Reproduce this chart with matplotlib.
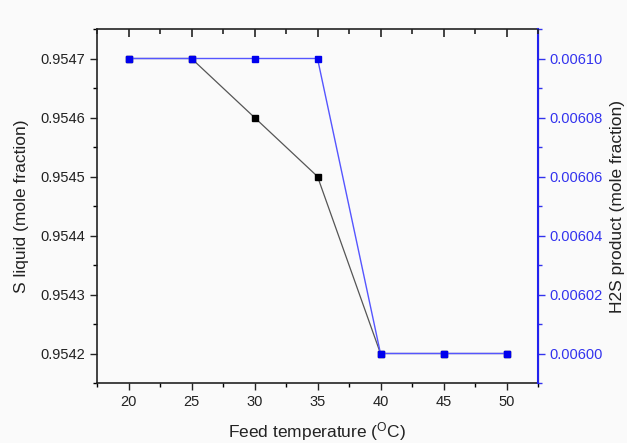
import matplotlib
matplotlib.use("Agg")
import matplotlib.pyplot as plt
from matplotlib.ticker import MultipleLocator, FormatStrFormatter

plt.rcParams['font.family'] = ['Liberation Sans', 'DejaVu Sans']

temperature = [20, 25, 30, 35, 40, 45, 50]
s_liquid = [0.9547, 0.9547, 0.9546, 0.9545, 0.9542, 0.9542, 0.9542]
h2s_product = [0.00610, 0.00610, 0.00610, 0.00610, 0.00600, 0.00600, 0.00600]

fig = plt.figure(figsize=(6.27, 4.43), dpi=100, facecolor='#fafafa')
ax = fig.add_axes([97/627, 1-383/443, (538-97)/627, (383-29)/443])
ax.set_facecolor('#fafafa')

ax.plot(temperature, s_liquid, color='#555555', lw=0.9, marker='s', ms=5,
        mfc='black', mec='black', zorder=2)
ax.set_xlim(17.5, 52.5)
ax.set_ylim(0.95415, 0.95475)
ax.xaxis.set_major_locator(MultipleLocator(5))
ax.xaxis.set_minor_locator(MultipleLocator(2.5))
ax.yaxis.set_major_locator(MultipleLocator(0.0001))
ax.yaxis.set_minor_locator(MultipleLocator(0.00005))
ax.yaxis.set_major_formatter(FormatStrFormatter('%.4f'))
ax.tick_params(axis='both', which='major', length=5, width=1, labelsize=10.5, colors='#222222', direction='out')
ax.tick_params(axis='both', which='minor', length=3, width=1, direction='out')
ax.set_xlabel('Feed temperature ($\\mathregular{^{O}}$C)', fontsize=12.5, color='#222222', labelpad=8)
ax.set_ylabel('S liquid (mole fraction)', fontsize=12.5, color='#222222', labelpad=8)
for s in ['left', 'bottom', 'top']:
    ax.spines[s].set_linewidth(1.2)
    ax.spines[s].set_color('#222222')

ax2 = ax.twinx()
ax2.plot(temperature, h2s_product, color='#5555ff', lw=1.0, marker='s', ms=5,
         mfc='#0000ee', mec='#0000ee', zorder=3)
ax2.set_ylim(0.00599, 0.00611)
ax2.yaxis.set_major_locator(MultipleLocator(0.00002))
ax2.yaxis.set_minor_locator(MultipleLocator(0.00001))
ax2.yaxis.set_major_formatter(FormatStrFormatter('%.5f'))
ax2.tick_params(axis='y', which='major', length=5, width=1, labelsize=10.5, colors='#3333ee', direction='out')
ax2.tick_params(axis='y', which='minor', length=3, width=1, colors='#3333ee', direction='out')
ax2.spines['right'].set_color('#2222ee')
ax2.spines['right'].set_linewidth(1.5)
for s in ['left', 'bottom', 'top']:
    ax2.spines[s].set_visible(False)
ax2.set_ylabel('H2S product (mole fraction)', fontsize=12.5, color='#222222', labelpad=5)

# top ticks pointing inward, drawn by an overlay axes sharing x
ax3 = fig.add_axes(ax.get_position(), sharex=ax, frameon=False)
ax3.patch.set_visible(False)
ax3.yaxis.set_visible(False)
ax3.xaxis.tick_top()
ax3.tick_params(axis='x', which='both', top=True, bottom=False, labeltop=False,
                labelbottom=False, direction='in', width=1.2, color='#222222')
ax3.tick_params(axis='x', which='major', length=6)
ax3.tick_params(axis='x', which='minor', length=3.5)

fig.savefig('out.png', dpi=100, facecolor=fig.get_facecolor())
